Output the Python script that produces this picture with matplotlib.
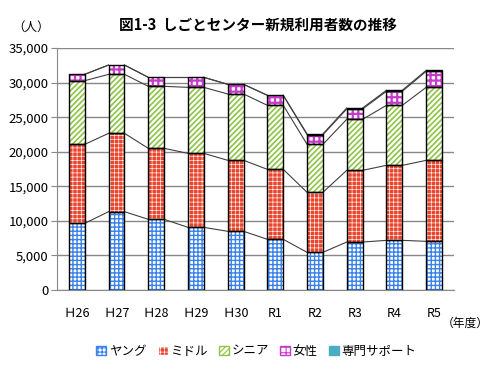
import matplotlib
matplotlib.use("Agg")
import matplotlib.pyplot as plt
import numpy as np
from matplotlib.patches import Patch

plt.rcParams['font.family'] = ['Noto Sans CJK JP', 'DejaVu Sans']

years = ["Ｈ26", "Ｈ27", "Ｈ28", "Ｈ29", "Ｈ30", "R1", "R2", "R3", "R4", "R5"]
young = [9650, 11330, 10220, 9060, 8490, 7330, 5450, 6940, 7180, 7040]
middle = [11420, 11330, 10270, 10700, 10270, 10120, 8680, 10370, 10850, 11710]
senior = [9210, 8530, 8970, 9550, 9590, 9260, 6940, 7380, 8680, 10560]
women = [920, 1350, 1300, 1450, 1400, 1450, 1400, 1490, 2030, 2310]
support = [0, 0, 0, 0, 0, 0, 100, 150, 150, 150]

names = ["ヤング", "ミドル", "シニア", "女性", "専門サポート"]
series = [young, middle, senior, women, support]
# (facecolor, hatch colour, hatch, hatch linewidth)
styles = [
    ("white", "#3b82ea", "++++", 1.0),
    ("#e8452c", "white", "++++", 0.45),
    ("white", "#8cc443", "//////", 1.2),
    ("white", "#c53cc9", "+++", 1.6),
    ("#4bacc6", "#4bacc6", None, 1.0),
]


def set_hlw(patches, hlw):
    for p in patches:
        if hasattr(p, "set_hatch_linewidth"):
            p.set_hatch_linewidth(hlw)


fig = plt.figure(figsize=(4.95, 3.86), dpi=100)
ax = fig.add_axes([0.1152, 0.2487, 0.8018, 0.6269])

x = np.arange(len(years))
w = 0.4
bottom = np.zeros(len(years))
tops = []
for vals, (fc, hc, hatch, hlw) in zip(series, styles):
    vals = np.array(vals, dtype=float)
    with plt.rc_context({"hatch.linewidth": hlw}):
        bars = ax.bar(x, vals, w, bottom=bottom, color=fc, edgecolor=hc,
                      hatch=hatch, linewidth=0, zorder=3)
    set_hlw(bars, hlw)
    has = vals > 0
    ax.bar(x[has], vals[has], w, bottom=bottom[has], fill=False,
           edgecolor="black", linewidth=1.0, zorder=4)
    bottom = bottom + vals
    tops.append(bottom.copy())

# series lines between bars
for top in tops:
    for j in range(len(years) - 1):
        ax.plot([x[j] + w / 2, x[j + 1] - w / 2], [top[j], top[j + 1]],
                color="#404040", linewidth=0.8, zorder=2)

ax.set_xlim(-0.5, len(years) - 0.5)
ax.set_ylim(0, 35000)
ax.set_yticks(np.arange(0, 35001, 5000))
ax.set_yticklabels([f"{v:,}" for v in range(0, 35001, 5000)], fontsize=9.5)
ax.set_xticks(x)
ax.set_xticklabels(years, fontsize=9)
ax.tick_params(axis="x", length=0, pad=12)
ax.tick_params(axis="y", length=4, color="#888888", pad=2)
ax.yaxis.grid(True, color="#888888", linewidth=1.0, zorder=0)
ax.set_axisbelow(True)
for s in ["top", "right"]:
    ax.spines[s].set_visible(False)
for s in ["left", "bottom"]:
    ax.spines[s].set_color("#888888")

fig.text(0.521, 0.935, "図1-3  しごとセンター新規利用者数の推移", ha="center",
         va="center", fontsize=10.5, fontweight="bold")
fig.text(0.062, 0.93, "（人）", ha="center", va="center", fontsize=9)
fig.text(0.94, 0.163, "（年度）", ha="center", va="center", fontsize=8.5)

handles = []
for name, (fc, hc, hatch, hlw) in zip(names, styles):
    if hatch is None:
        handles.append(Patch(facecolor=fc, edgecolor=fc, label=name))
    else:
        handles.append(Patch(facecolor=fc, edgecolor=hc, hatch=hatch, label=name))
with plt.rc_context({"hatch.linewidth": 0.8}):
    leg = fig.legend(handles=handles, loc="center", bbox_to_anchor=(0.518, 0.09),
                     ncol=5, frameon=False, fontsize=9, handlelength=0.8,
                     handleheight=0.8, handletextpad=0.2, columnspacing=0.9)
for lp, (fc, hc, hatch, hlw) in zip(leg.get_patches(), styles):
    set_hlw([lp], min(hlw, 0.8))

fig.savefig("out.png", dpi=100)
